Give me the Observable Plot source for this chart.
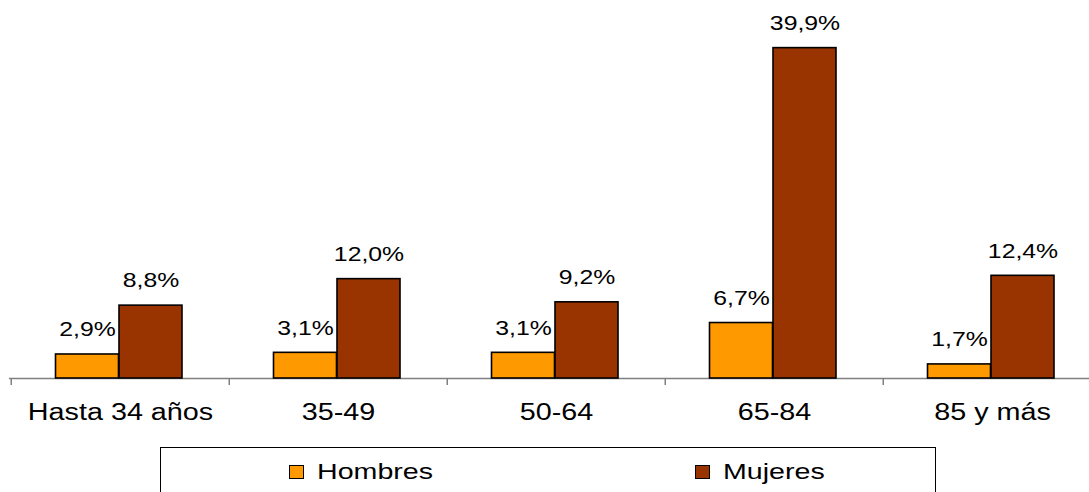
<!DOCTYPE html>
<html>
<head>
<meta charset="utf-8">
<script src="https://cdn.jsdelivr.net/npm/d3@7"></script>
<script src="https://cdn.jsdelivr.net/npm/@observablehq/plot@0.6"></script>
<style>
  html, body { margin: 0; padding: 0; background: #fff; overflow: hidden; }
  body { width: 1089px; height: 492px; font-family: "Liberation Sans", Arial, sans-serif; }
  svg { display: block; }
  #legend { position: relative; margin-left: 160px; width: 776px; height: 60px; border: 1px solid #000; border-bottom: none; box-sizing: border-box; }
  .item { position: absolute; top: 12px; display: flex; align-items: center; }
  .sw { width: 15px; height: 14px; border: 1.5px solid #000; box-sizing: border-box; }
  .lbl { font-size: 22px; margin-left: 13px; transform: scaleX(1.3); transform-origin: left center; line-height: 24px; color: #000; }
</style>
</head>
<body>
<div id="chart"></div>
<div id="legend"></div>
<script>
const categories = ["Hasta 34 años", "35-49", "50-64", "65-84", "85 y más"];
const hombres = [2.9, 3.1, 3.1, 6.7, 1.7];
const mujeres = [8.8, 12.0, 9.2, 39.9, 12.4];
const series = ["Hombres", "Mujeres"];
const colors = ["#FF9900", "#993300"];

const dataH = categories.map((c, i) => ({cat: c, v: hombres[i]}));
const dataM = categories.map((c, i) => ({cat: c, v: mujeres[i]}));
const fmt = d => d.v.toFixed(1).replace(".", ",") + "%";

const chart = Plot.plot({
  width: 1089,
  height: 447,
  marginLeft: 9,
  marginRight: 0,
  marginTop: 46.8,
  marginBottom: 69,
  style: {fontFamily: '"Liberation Sans", Arial, sans-serif', color: "#000", background: "#fff", overflow: "visible"},
  x: {domain: categories, range: [9.3, 1101.8], padding: 0, label: null},
  y: {domain: [0, 40], axis: null},
  marks: [
    Plot.ruleY([0], {stroke: "#808080", strokeWidth: 1.5}),
    Plot.axisX({tickSize: 7, dx: -109.25, stroke: "#808080", strokeWidth: 1.5, fill: "none", label: null}),
    Plot.axisX({tickSize: 0, tickPadding: 25, fontSize: 23, label: null}),
    Plot.barY(dataH, {x: "cat", y: "v", fill: colors[0], stroke: "#000", strokeWidth: 1.6, insetLeft: 44.5, insetRight: 110.5}),
    Plot.barY(dataM, {x: "cat", y: "v", fill: colors[1], stroke: "#000", strokeWidth: 1.6, insetLeft: 108, insetRight: 47}),
    Plot.text(dataH, {x: "cat", y: "v", text: fmt, dx: -33, dy: -25, fontSize: 21, fill: "#000"}),
    Plot.text(dataM, {x: "cat", y: "v", text: fmt, dx: 30.5, dy: -25, fontSize: 21, fill: "#000"})
  ]
});
document.getElementById("chart").append(chart);

function stretch(t, f) {
  const len = t.getComputedTextLength();
  if (len > 0) {
    t.setAttribute("textLength", (len * f).toFixed(1));
    t.setAttribute("lengthAdjust", "spacingAndGlyphs");
  }
}
chart.querySelectorAll('g[aria-label="text"] text').forEach(t => stretch(t, 1.18));
chart.querySelectorAll('g[aria-label="x-axis tick label"] text').forEach(t => stretch(t, 1.25));

const legend = document.getElementById("legend");
const lefts = [128, 534];
series.forEach((s, i) => {
  const item = document.createElement("div");
  item.className = "item";
  item.style.left = lefts[i] + "px";
  const sw = document.createElement("div");
  sw.className = "sw";
  sw.style.background = colors[i];
  const lbl = document.createElement("span");
  lbl.className = "lbl";
  lbl.textContent = s;
  item.append(sw, lbl);
  legend.append(item);
});
</script>
</body>
</html>
